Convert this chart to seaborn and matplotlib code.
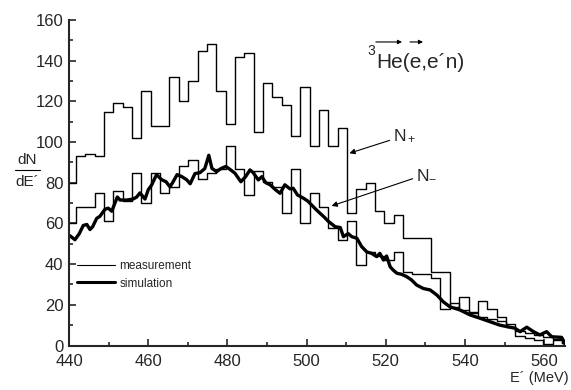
import numpy as np
import pandas as pd
import matplotlib
matplotlib.use('Agg')
import matplotlib.pyplot as plt
import seaborn as sns
from matplotlib.lines import Line2D
from matplotlib.ticker import MultipleLocator

# histogram binning of E' (MeV)
bin_start = 439.41
bin_width = 2.36

# measured counts per bin
n_plus = [80, 93, 94, 93, 115, 119, 117, 102, 125, 108,
          108, 132, 120, 130, 145, 148, 125, 109, 142, 144,
          105, 129, 122, 118, 103, 127, 98, 116, 98, 107,
          65, 77, 80, 66, 60, 64, 53, 53, 53, 36,
          36, 19, 24, 16.5, 22, 18, 14, 10.5, 7, 6,
          5, 4, 3, 1]
n_minus = [60, 68, 68, 75, 61, 76, 71, 85, 70, 85,
           75, 78, 88, 91, 82, 85, 87, 98, 87, 74,
           86, 80.5, 78, 65, 87, 60, 75, 68, 58, 52,
           61, 39.5, 46, 44, 42, 46, 36, 35, 35, 33,
           18, 21, 17.5, 16, 14, 13, 12, 9, 4.5, 3.5,
           2.5, 0.5, 2.5, 1]

# simulation curve
sim_e = [440.2, 441.5, 442.6, 443.6, 444.5, 445.3, 446.0, 447.0, 447.8, 449.1,
         449.9, 450.8, 451.4, 452.2, 452.9, 454.6, 456.2, 457.1, 457.9, 459.2,
         460.0, 460.9, 462.1, 463.4, 464.5, 465.5, 466.3, 467.3, 468.5, 469.7,
         470.6, 471.8, 473.1, 474.3, 475.3, 476.1, 477.3, 478.4, 479.6, 480.7,
         481.9, 483.4, 484.6, 485.7, 486.5, 487.8, 488.7, 489.7, 490.8, 492.0,
         493.3, 494.5, 495.8, 496.6, 497.7, 499.2, 500.3, 501.3, 502.3, 503.4,
         504.5, 505.5, 506.5, 507.2, 508.5, 509.3, 510.5, 511.4, 512.7, 513.9,
         515.2, 516.4, 517.7, 518.5, 519.4, 520.2, 521.1, 521.9, 522.8, 524.0,
         525.3, 526.5, 527.8, 529.5, 531.2, 532.9, 534.5, 536.2, 538.7, 541.3,
         543.8, 546.3, 548.8, 552.6, 553.9, 555.6, 557.3, 558.9, 560.6, 561.9,
         564.4, 565.5]
sim_y = [54, 52, 55, 59, 59.5, 57, 58.5, 62.5, 63.5, 67,
         67.5, 66, 69, 73, 71.5, 71.5, 72, 73, 75, 72,
         76.5, 79, 84, 81.5, 80.5, 78, 80.5, 84, 83, 81.5,
         79.5, 84.5, 85, 87, 93.5, 87, 85.5, 87, 88, 86.5,
         84.7, 80.5, 83, 86.3, 85, 81.4, 83, 80, 79, 76.8,
         74.8, 79, 77, 77.3, 74, 72.4, 71, 69, 67, 65,
         63, 61, 59.5, 58.4, 58, 53.5, 55, 53.5, 52.7, 48.6,
         46, 45.3, 43.7, 45.3, 42, 44, 38.7, 37, 35.5, 35,
         33.8, 32.2, 29.7, 28, 27.3, 24.8, 21.5, 19, 17.5, 15,
         13.4, 11.7, 10, 8.5, 6.8, 9, 6.8, 5.2, 6.8, 4.3,
         4, 0]

sns.set_style('ticks')
plt.rcParams['font.family'] = ['Liberation Sans', 'DejaVu Sans']
plt.rcParams['mathtext.fontset'] = 'custom'
plt.rcParams['mathtext.rm'] = 'Liberation Sans'
plt.rcParams['mathtext.it'] = 'Liberation Sans'

fig = plt.figure(figsize=(5.71, 3.9), dpi=100)
ax = fig.add_axes([69 / 571, 44.5 / 390, 496 / 571, 325.5 / 390])

edges = bin_start + bin_width * np.arange(len(n_plus) + 1)
centers = edges[:-1] + bin_width / 2
hist_df = pd.DataFrame({'E': centers, 'plus': n_plus, 'minus': n_minus})

for col in ['plus', 'minus']:
    sns.histplot(data=hist_df, x='E', weights=col, bins=list(edges), element='step',
                 fill=False, color='black', linewidth=1.0, ax=ax)
sns.lineplot(x=sim_e, y=sim_y, color='black', linewidth=2.4, ax=ax)

ax.set_xlim(440, 565.25)
ax.set_ylim(0, 160)
ax.set_xlabel('')
ax.set_ylabel('')
ax.xaxis.set_major_locator(MultipleLocator(20))
ax.xaxis.set_minor_locator(MultipleLocator(10))
ax.yaxis.set_major_locator(MultipleLocator(20))
ax.yaxis.set_minor_locator(MultipleLocator(10))
ax.tick_params(which='both', direction='in', width=1.2, labelsize=12, pad=4)
ax.tick_params(axis='x', pad=6)
ax.tick_params(which='major', length=5)
ax.tick_params(which='minor', length=3)
sns.despine(ax=ax)
for s in ['left', 'bottom']:
    ax.spines[s].set_linewidth(1.5)

# axis labels
ax.text(-0.085, 0.57, 'dN', transform=ax.transAxes, ha='center', va='center', fontsize=11)
ax.plot([-0.109, -0.058], [0.539, 0.539], transform=ax.transAxes, clip_on=False,
        color='black', lw=0.8)
ax.text(-0.085, 0.502, 'dE´', transform=ax.transAxes, ha='center', va='center', fontsize=11)
ax.text(1.007, -0.1, 'E´ (MeV)', transform=ax.transAxes, ha='right', va='center',
        fontsize=10.5)

# reaction label
ax.text(515.3, 142.8, '3', fontsize=10, ha='left', va='baseline')
ax.text(517.5, 136.4, 'He(e,e´n)', fontsize=15, ha='left', va='baseline')
for x0, x1 in [(517.5, 524.1), (526.1, 529.4)]:
    ax.annotate('', xy=(x1, 149.2), xytext=(x0, 149.2),
                arrowprops=dict(arrowstyle='-|>', lw=0.8, color='black',
                                mutation_scale=6, shrinkA=0, shrinkB=0))

# N+ / N- pointers
ax.annotate('N$_+$', xy=(510.8, 94.5), xytext=(521.8, 103), fontsize=12.5,
            ha='left', va='center',
            arrowprops=dict(arrowstyle='-|>', lw=0.8, color='black', mutation_scale=8,
                            shrinkA=0, shrinkB=0, relpos=(0, 0.3)))
ax.annotate('N$_{-}$', xy=(506.3, 68.6), xytext=(527.6, 84), fontsize=12.5,
            ha='left', va='center',
            arrowprops=dict(arrowstyle='-|>', lw=0.8, color='black', mutation_scale=8,
                            shrinkA=0, shrinkB=0, relpos=(0, 0.3)))

handles = [Line2D([], [], color='black', lw=0.8), Line2D([], [], color='black', lw=2.2)]
ax.legend(handles, ['measurement', 'simulation'], loc='upper left',
          bbox_to_anchor=(0.016, 0.262), frameon=False, fontsize=8.5,
          handlelength=3.2, handletextpad=0.4, labelspacing=0.45,
          borderpad=0, borderaxespad=0)

plt.savefig('out.png', dpi=100)
